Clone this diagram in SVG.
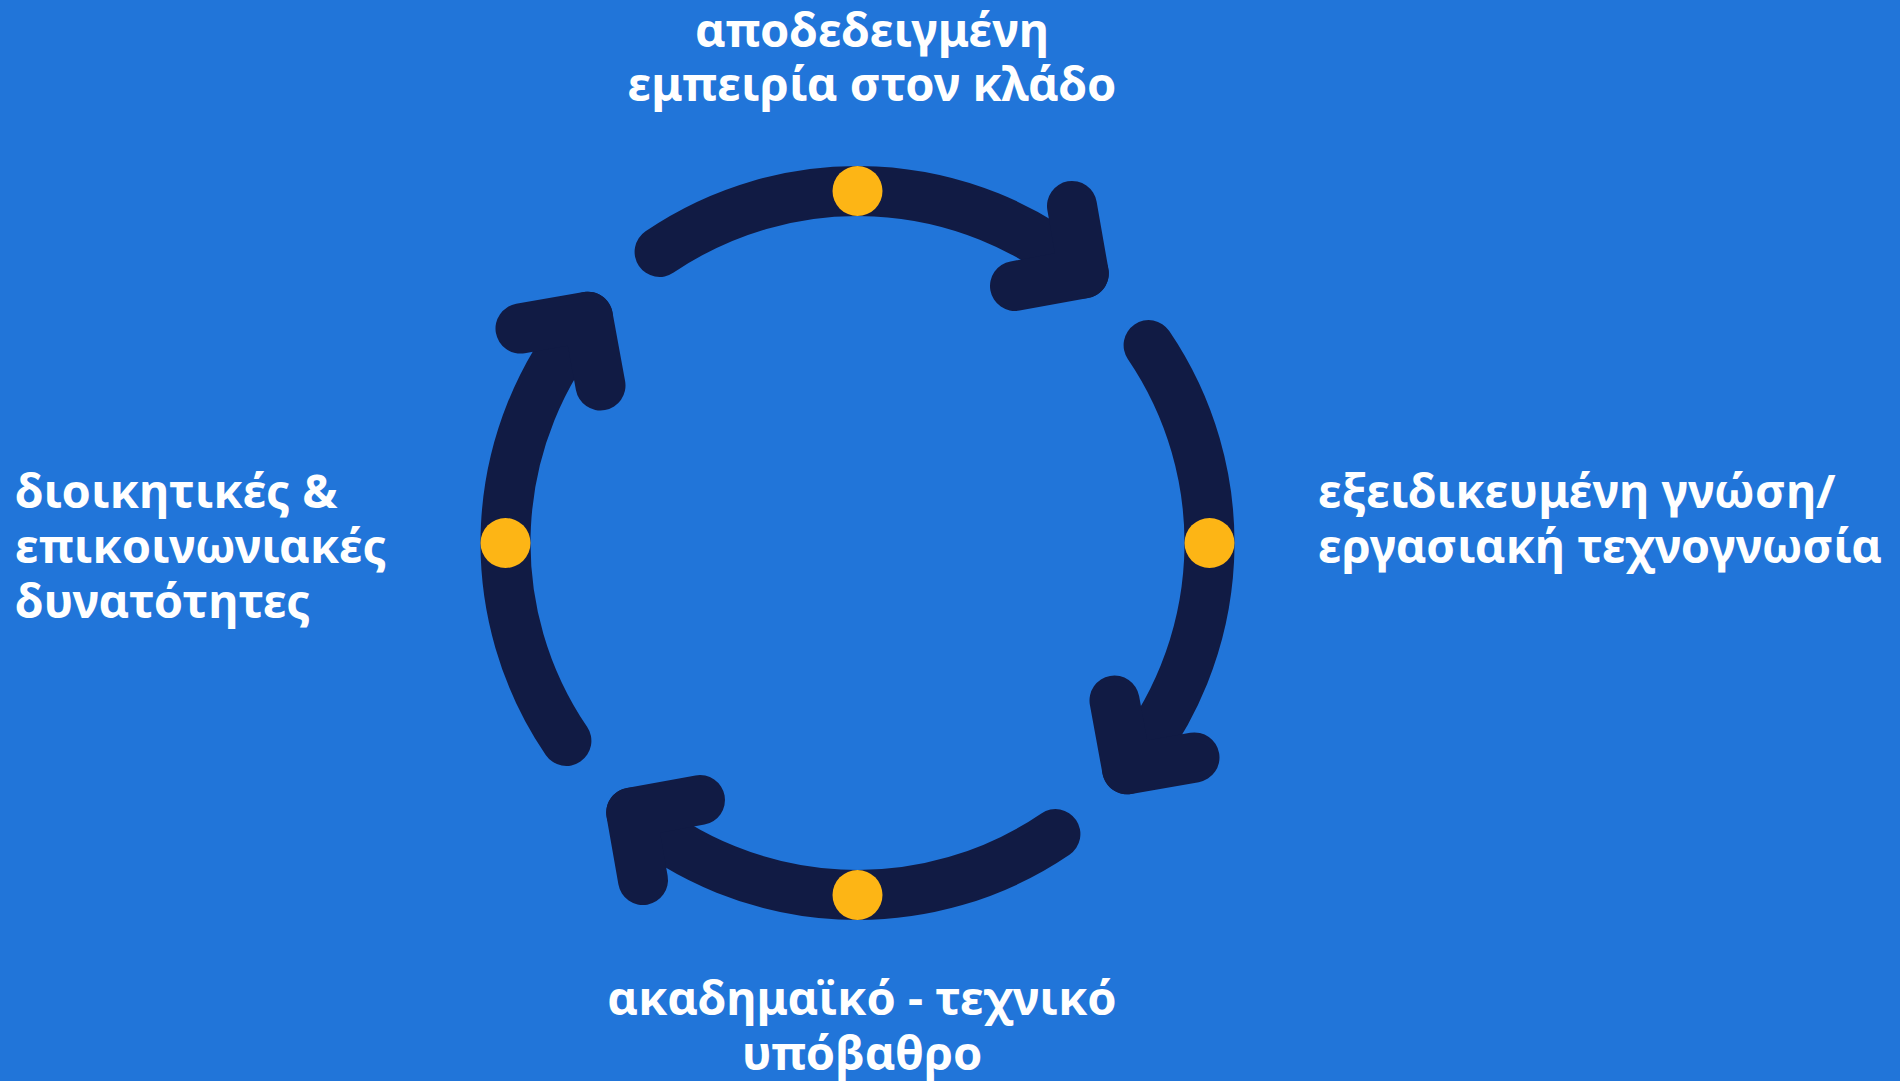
<svg xmlns="http://www.w3.org/2000/svg" width="1900" height="1081" viewBox="0 0 1900 1081">
  <style>
    .bg { fill: #2175D9; }
    .arc { fill: none; stroke: #111B44; stroke-width: 50; stroke-linecap: round; stroke-linejoin: round; }
    .dot { fill: #FDB515; }
    .label { fill: #FFFFFF; font-family: "Noto Sans", "DejaVu Sans", "Liberation Sans", sans-serif; font-weight: 700; font-size: 47px; }
  </style>
  <defs>
    <g id="arrowArc">
      <path class="arc" d="M 659.6 251.9 A 352 352 0 0 1 1083.8 273.4"/>
      <path class="arc" d="M 1072 206 L 1083.8 273.4 L 1015 286"/>
    </g>
  </defs>
  <rect class="bg" x="0" y="0" width="1900" height="1081"/>
  <g id="connectors">
    <use href="#arrowArc"/>
    <use href="#arrowArc" transform="rotate(90 857.5 543)"/>
    <use href="#arrowArc" transform="rotate(180 857.5 543)"/>
    <use href="#arrowArc" transform="rotate(270 857.5 543)"/>
  </g>
  <g id="node-top">
    <circle class="dot" cx="857.5" cy="191" r="25"/>
    <text class="label" text-anchor="middle" x="872" y="47">αποδεδειγμένη</text>
    <text class="label" text-anchor="middle" x="872" y="101">εμπειρία στον κλάδο</text>
  </g>
  <g id="node-right">
    <circle class="dot" cx="1209.5" cy="543" r="25"/>
    <text class="label" x="1318" y="508">εξειδικευμένη γνώση/</text>
    <text class="label" x="1318" y="563">εργασιακή τεχνογνωσία</text>
  </g>
  <g id="node-bottom">
    <circle class="dot" cx="857.5" cy="895" r="25"/>
    <text class="label" text-anchor="middle" x="862" y="1015">ακαδημαϊκό - τεχνικό</text>
    <text class="label" text-anchor="middle" x="862" y="1070">υπόβαθρο</text>
  </g>
  <g id="node-left">
    <circle class="dot" cx="505.5" cy="543" r="25"/>
    <text class="label" x="15" y="508">διοικητικές &amp;</text>
    <text class="label" x="15" y="563">επικοινωνιακές</text>
    <text class="label" x="15" y="618">δυνατότητες</text>
  </g>
</svg>
